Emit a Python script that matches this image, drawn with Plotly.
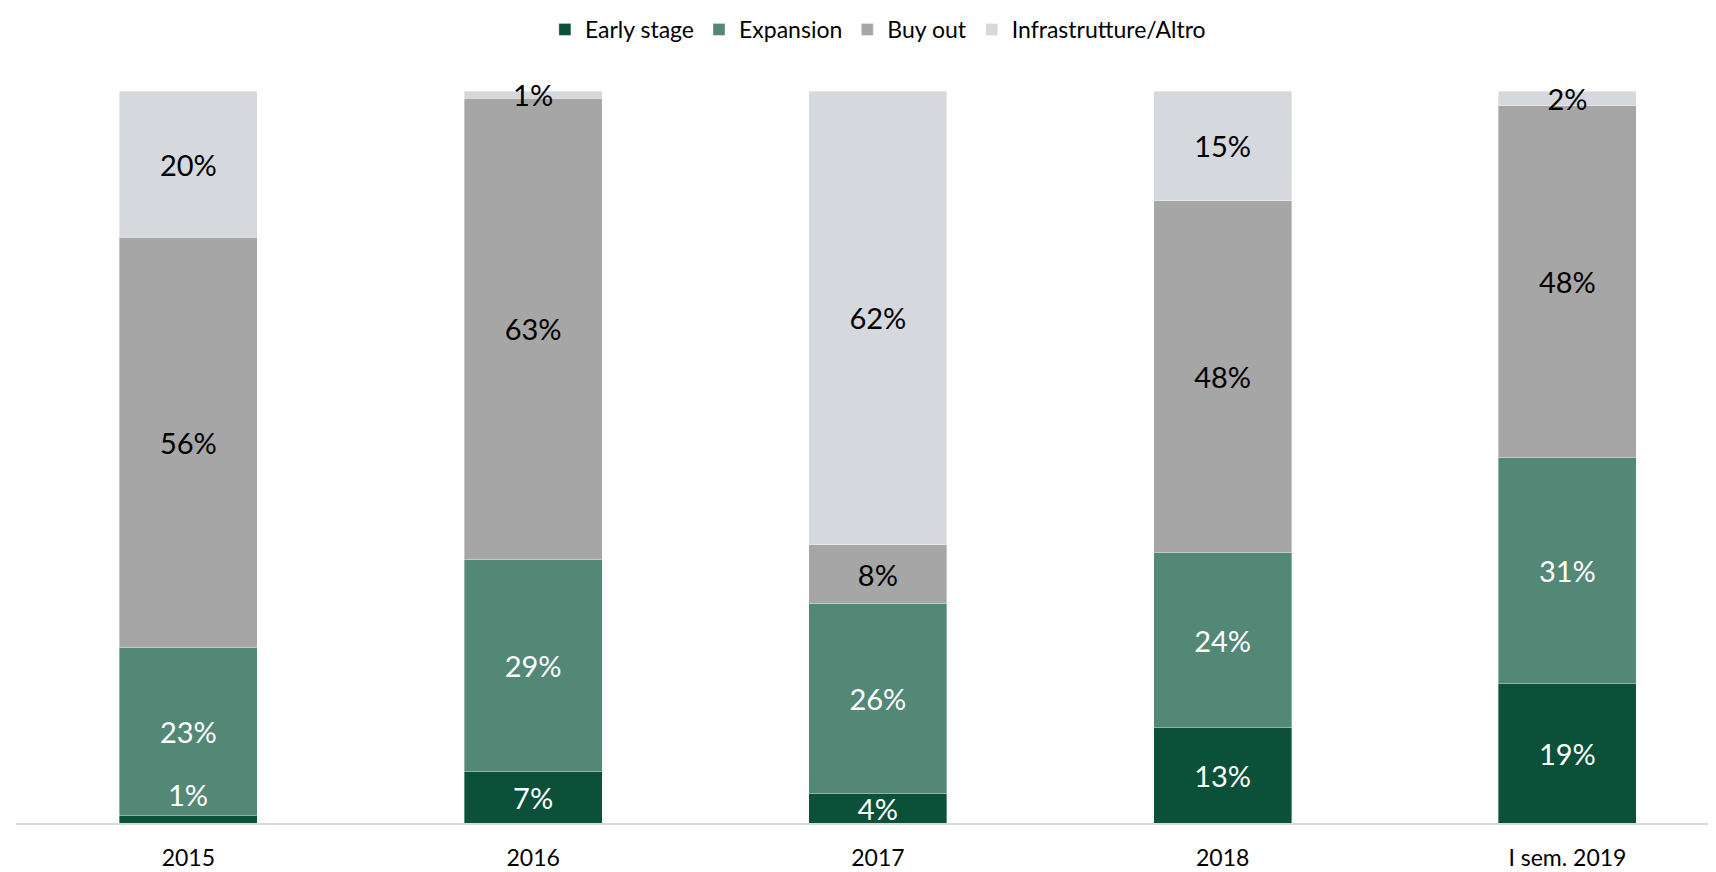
import plotly.graph_objects as go

anni = ["2015", "2016", "2017", "2018", "I sem. 2019"]
early_stage = [1, 7, 4, 13, 19]
expansion = [23, 29, 26, 24, 31]
buy_out = [56, 63, 8, 48, 48]
infrastrutture = [20, 1, 62, 15, 2]

serie = [
    ("Early stage", early_stage, "#0B5139", "white"),
    ("Expansion", expansion, "#538776", "white"),
    ("Buy out", buy_out, "#A6A6A6", "black"),
    ("Infrastrutture/Altro", infrastrutture, "#D5D8DC", "black"),
]

FONT = "Lato, 'Open Sans', sans-serif"

fig = go.Figure()
for nome, valori, colore, col_testo in serie:
    testi = [f"{v}%" for v in valori]
    posizioni = ["inside"] * len(valori)
    if nome == "Early stage":
        # il primo valore (1%) è troppo piccolo: etichetta sopra, come nell'originale
        posizioni[0] = "none"
    fig.add_trace(go.Bar(
        x=anni, y=valori, name=nome,
        marker=dict(color=colore, line=dict(width=0.6, color="rgba(255,255,255,0.6)")),
        text=testi, textposition=posizioni, insidetextanchor="middle",
        textangle=0, cliponaxis=False,
        insidetextfont=dict(color=col_testo, size=29, family=FONT),
        width=0.4,
    ))

# etichetta del primo "Early stage" posta sopra il segmento
fig.add_annotation(
    x=anni.index(anni[0]), y=early_stage[0], xref="x", yref="y",
    text=f"{early_stage[0]}%", showarrow=False, yanchor="bottom", yshift=2,
    font=dict(color="white", size=29, family=FONT),
)

# la pagina html ha un margine di 8px sul body: la figura è ridotta di conseguenza
fig.update_layout(
    barmode="stack",
    width=1708, height=864,
    margin=dict(l=8, r=0, t=83, b=49, autoexpand=False),
    plot_bgcolor="white", paper_bgcolor="white",
    uniformtext=dict(minsize=29, mode="show"),
    font=dict(family=FONT, color="black"),
    legend=dict(
        orientation="h", x=0.507, xanchor="center", y=1.0, yref="container",
        yanchor="top", font=dict(size=23, family=FONT),
        traceorder="normal", itemwidth=30,
    ),
    xaxis=dict(
        type="category", range=[-0.5, 4.431], automargin=False,
        showline=True, linecolor="#D9D9D9", linewidth=2,
        ticks="outside", ticklen=13, tickcolor="rgba(0,0,0,0)",
        tickfont=dict(size=23, family=FONT, color="black"),
        showgrid=False,
    ),
    yaxis=dict(range=[0, 100], visible=False, showgrid=False),
)

fig.write_html("out.html")
